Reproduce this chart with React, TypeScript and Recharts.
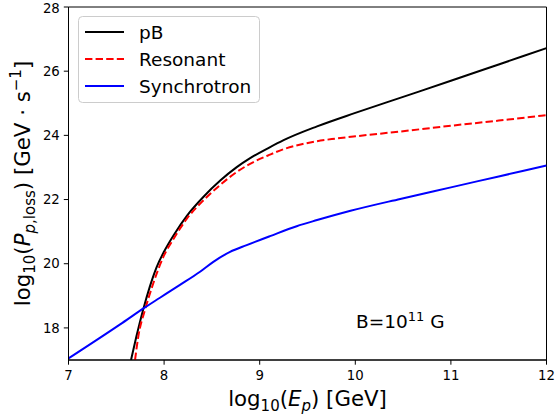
import { LineChart, Line, XAxis, YAxis, ReferenceArea } from "recharts";

// axis ticks
const X_TICKS = [7, 8, 9, 10, 11, 12];
const Y_TICKS = [18, 20, 22, 24, 26, 28];

const SERIES_NAMES = ["pB", "Resonant", "Synchrotron"];
const SERIES_COLORS = ["#000000", "#ff0000", "#0000ff"];

// log10(E_p) [GeV] vs log10(P_loss)
const PB_E = [7.654, 7.71, 7.78, 7.85, 7.92, 8.0, 8.1, 8.24, 8.41, 8.59, 8.76, 8.9, 9.1, 9.25, 9.6, 10.0, 10.5, 11.0, 11.5, 12.0];
const PB_LOSS = [17.0, 17.73, 18.56, 19.28, 19.88, 20.38, 20.89, 21.5, 22.08, 22.6, 23.01, 23.29, 23.62, 23.85, 24.28, 24.7, 25.2, 25.7, 26.21, 26.72];

const RES_E = [7.696, 7.73, 7.8, 7.887, 7.99, 8.1, 8.24, 8.41, 8.585, 8.76, 8.93, 9.1, 9.25, 9.45, 9.6, 9.8, 10.0, 10.5, 11.0, 11.5, 12.0];
const RES_LOSS = [17.0, 17.73, 18.56, 19.39, 20.2, 20.78, 21.41, 21.97, 22.45, 22.86, 23.16, 23.39, 23.57, 23.73, 23.82, 23.9, 23.97, 24.13, 24.3, 24.46, 24.63];

const SYN_E = [7.0, 7.54, 7.8, 7.957, 8.166, 8.376, 8.515, 8.69, 8.864, 9.108, 9.387, 9.6, 9.95, 10.47, 11.0, 11.5, 12.0];
const SYN_LOSS = [17.05, 18.11, 18.64, 18.94, 19.34, 19.75, 20.06, 20.37, 20.58, 20.86, 21.17, 21.36, 21.65, 22.02, 22.38, 22.72, 23.06];

const zip = (es: number[], ls: number[]) => es.map((e, i) => ({ e, loss: ls[i] }));

const FONT = "DejaVu Sans";
const tickStyle = { fontSize: 13.3, fontFamily: FONT, fill: "#000" };

function XLabel({ viewBox }: { viewBox?: { x: number; y: number; width: number; height: number } }) {
  const vb = viewBox ?? { x: 68.5, y: 360, width: 478, height: 57 };
  return (
    <text x={vb.x + vb.width / 2} y={vb.y + 46} textAnchor="middle" fontSize={21.3} fontFamily={FONT} fill="#000">
      log
      <tspan fontSize={15} dy={5}>10</tspan>
      <tspan dy={-5}>(</tspan>
      <tspan fontStyle="italic">E</tspan>
      <tspan fontStyle="italic" fontSize={15} dy={5}>p</tspan>
      <tspan dy={-5}>) [GeV]</tspan>
    </text>
  );
}

function YLabel({ viewBox }: { viewBox?: { x: number; y: number; width: number; height: number } }) {
  const vb = viewBox ?? { x: 0, y: 7, width: 68.5, height: 353 };
  const cx = vb.x + 30;
  const cy = vb.y + vb.height / 2;
  return (
    <text
      x={cx}
      y={cy}
      transform={`rotate(-90 ${cx} ${cy})`}
      textAnchor="middle"
      fontSize={21.3}
      fontFamily={FONT}
      fill="#000"
    >
      log
      <tspan fontSize={15} dy={5}>10</tspan>
      <tspan dy={-5}>(</tspan>
      <tspan fontStyle="italic">P</tspan>
      <tspan fontSize={15} dy={5}>
        <tspan fontStyle="italic">p</tspan>,loss
      </tspan>
      <tspan dy={-5}>) [GeV</tspan>
      <tspan> · s</tspan>
      <tspan fontSize={15} dy={-9}>−1</tspan>
      <tspan dy={9}>]</tspan>
    </text>
  );
}

function LegendBox() {
  const rows = [32, 59, 86];
  return (
    <g>
      <rect x={78.5} y={16.5} width={181} height={86} rx={4} fill="#ffffff" fillOpacity={0.8} stroke="#cccccc" />
      {SERIES_NAMES.map((name, i) => (
        <g key={name}>
          <line
            x1={85}
            x2={124}
            y1={rows[i]}
            y2={rows[i]}
            stroke={SERIES_COLORS[i]}
            strokeWidth={2}
            strokeDasharray={i === 1 ? "7.4 3.2" : undefined}
          />
          <text x={139} y={rows[i] + 6.5} fontSize={18.5} fontFamily={FONT} fill="#000">
            {name}
          </text>
        </g>
      ))}
    </g>
  );
}

export default function App() {
  const pb = zip(PB_E, PB_LOSS);
  const res = zip(RES_E, RES_LOSS);
  const syn = zip(SYN_E, SYN_LOSS);

  return (
    <div style={{ position: "absolute", left: 0, top: 0, width: 555, height: 417, background: "#fff" }}>
      <LineChart width={555} height={417} margin={{ top: 7, right: 8.5, bottom: 0, left: 0 }}>
        <XAxis
          dataKey="e"
          type="number"
          domain={[7, 12]}
          ticks={X_TICKS}
          allowDataOverflow
          height={57}
          tickSize={4.7}
          tickMargin={6}
          tick={tickStyle}
          axisLine={{ stroke: "#000", strokeWidth: 1 }}
          tickLine={{ stroke: "#000", strokeWidth: 1 }}
          label={<XLabel />}
        />
        <YAxis
          type="number"
          domain={[17, 28]}
          ticks={Y_TICKS}
          allowDataOverflow
          width={68.5}
          tickSize={4.7}
          tickMargin={4}
          tick={tickStyle}
          axisLine={{ stroke: "#000", strokeWidth: 1 }}
          tickLine={{ stroke: "#000", strokeWidth: 1 }}
          label={<YLabel />}
        />
        <ReferenceArea x1={7} x2={12} y1={17} y2={28} fill="none" stroke="#000" strokeWidth={1} />
        <Line data={pb} dataKey="loss" name={SERIES_NAMES[0]} type="monotone" stroke={SERIES_COLORS[0]} strokeWidth={2} dot={false} isAnimationActive={false} />
        <Line data={res} dataKey="loss" name={SERIES_NAMES[1]} type="monotone" stroke={SERIES_COLORS[1]} strokeWidth={2} strokeDasharray="7.4 3.2" dot={false} isAnimationActive={false} />
        <Line data={syn} dataKey="loss" name={SERIES_NAMES[2]} type="monotone" stroke={SERIES_COLORS[2]} strokeWidth={2} dot={false} isAnimationActive={false} />
      </LineChart>
      <svg width={555} height={417} style={{ position: "absolute", left: 0, top: 0, pointerEvents: "none" }}>
        <LegendBox />
        <text x={356} y={328} fontSize={18.5} fontFamily={FONT} fill="#000">
          B=10
          <tspan fontSize={13} dy={-7}>11</tspan>
          <tspan dy={7}> G</tspan>
        </text>
      </svg>
    </div>
  );
}
